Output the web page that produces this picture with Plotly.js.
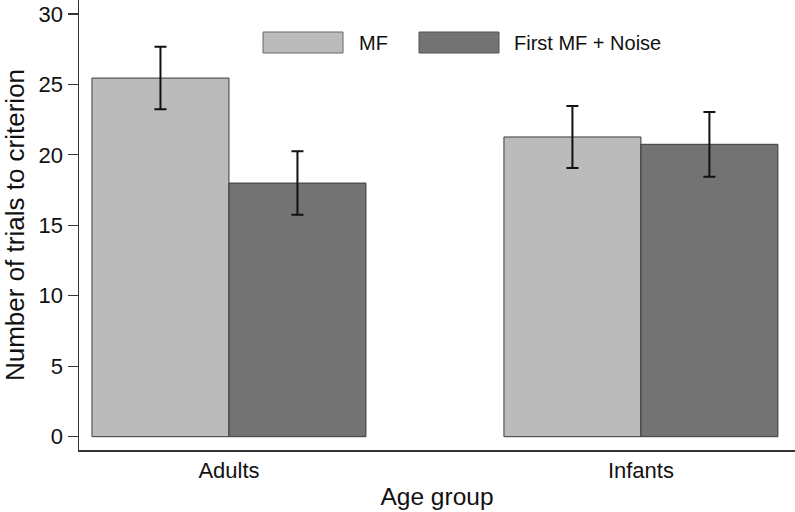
<!DOCTYPE html>
<html>
<head>
<meta charset="utf-8">
<script src="https://cdn.plot.ly/plotly-3.0.1.min.js"></script>
<style>html,body{margin:0;padding:0;background:#fff;}#chart{width:795px;height:512px;}</style>
</head>
<body>
<div id="chart"></div>
<script>
// Data
var categories = ['Adults', 'Infants'];
var seriesNames = ['MF', 'First MF + Noise'];
var mfValues = [25.45, 21.27];
var mfErrors = [2.22, 2.20];
var noiseValues = [18.0, 20.75];
var noiseErrors = [2.25, 2.30];
var yTickValues = [0, 5, 10, 15, 20, 25, 30];

var W = 795, H = 512;
var M = {l: 79, r: 0, t: 0, b: 62};
var PW = W - M.l - M.r, PH = H - M.t - M.b;
function px(x) { return (x - M.l) / PW; }
function py(y) { return 1 - (y - M.t) / PH; }

var lightFill = '#bbbbbb', darkFill = '#737373', outline = '#3a3a3a';
var font = 'Liberation Sans, Arial, Helvetica, sans-serif';

var traces = [
  {
    type: 'bar', name: seriesNames[0], x: categories, y: mfValues,
    marker: {color: lightFill, line: {color: outline, width: 1}},
    error_y: {type: 'data', array: mfErrors, visible: true, color: '#111', thickness: 2, width: 6},
    showlegend: false
  },
  {
    type: 'bar', name: seriesNames[1], x: categories, y: noiseValues,
    marker: {color: darkFill, line: {color: outline, width: 1}},
    error_y: {type: 'data', array: noiseErrors, visible: true, color: '#111', thickness: 2, width: 6},
    showlegend: false
  }
];

var layout = {
  width: W, height: H,
  margin: M,
  paper_bgcolor: '#fff', plot_bgcolor: '#fff',
  font: {family: font, size: 22, color: '#111'},
  barmode: 'group',
  bargap: 0.335,
  bargroupgap: 0,
  showlegend: false,
  xaxis: {
    type: 'category',
    range: [-0.364, 1.374],
    showgrid: false, zeroline: false,
    showline: true, linecolor: '#333', linewidth: 1.5,
    ticks: '', ticklabelstandoff: 0,
    tickfont: {size: 22, family: font, color: '#111'},
    title: {text: 'Age group', font: {size: 24.5, family: font, color: '#111'}, standoff: 6}
  },
  yaxis: {
    range: [-0.944, 30.99],
    tickvals: yTickValues,
    ticktext: yTickValues.map(String),
    showgrid: false, zeroline: false,
    showline: true, linecolor: '#333', linewidth: 1.5,
    ticks: 'outside', ticklen: 10, tickwidth: 1.2, tickcolor: '#333',
    tickfont: {size: 22, family: font, color: '#111'},
    title: {text: 'Number of trials to criterion', font: {size: 26, family: font, color: '#111'}, standoff: 8}
  },
  shapes: [
    {type: 'rect', xref: 'paper', yref: 'paper', x0: px(263), x1: px(343), y0: py(53), y1: py(32),
     fillcolor: lightFill, line: {color: '#666', width: 1}},
    {type: 'rect', xref: 'paper', yref: 'paper', x0: px(419), x1: px(499), y0: py(53), y1: py(32),
     fillcolor: darkFill, line: {color: '#555', width: 1}}
  ],
  annotations: [
    {xref: 'paper', yref: 'paper', x: px(357), y: py(43), xanchor: 'left', yanchor: 'middle',
     text: seriesNames[0], showarrow: false, font: {size: 20, family: font, color: '#111'}},
    {xref: 'paper', yref: 'paper', x: px(512), y: py(43), xanchor: 'left', yanchor: 'middle',
     text: seriesNames[1], showarrow: false, font: {size: 20, family: font, color: '#111'}}
  ]
};

Plotly.newPlot('chart', traces, layout, {staticPlot: true, displayModeBar: false});
</script>
</body>
</html>
